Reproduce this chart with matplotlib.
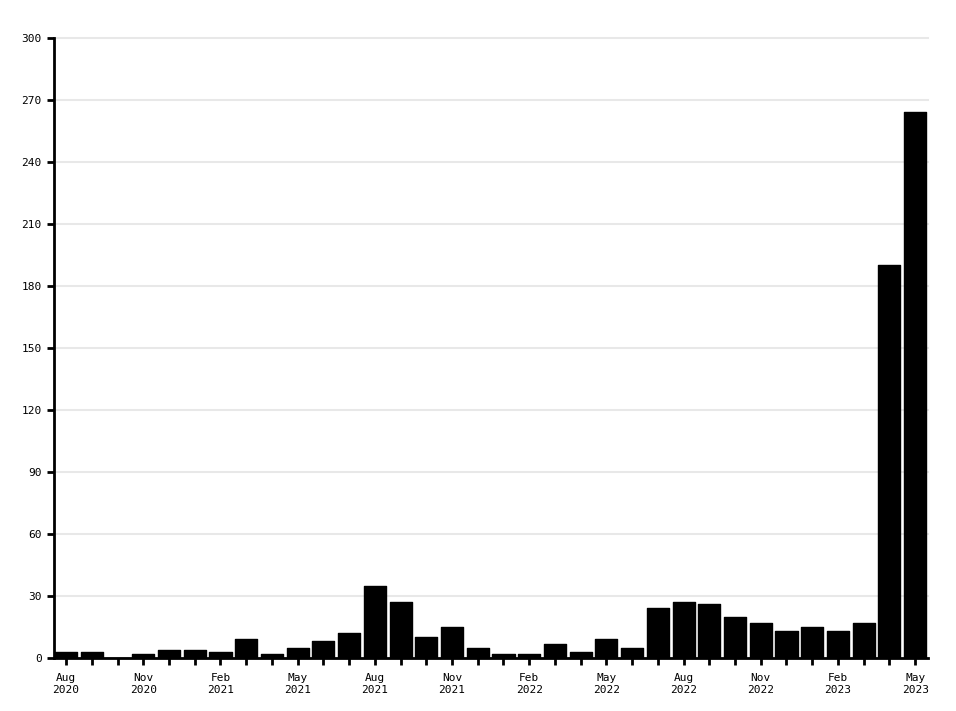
import matplotlib
matplotlib.use("Agg")
import matplotlib.pyplot as plt
import numpy as np

plt.rcParams['font.family'] = ['DejaVu Sans Mono']

months = ["Aug 2020", "Sep 2020", "Oct 2020", "Nov 2020", "Dec 2020",
          "Jan 2021", "Feb 2021", "Mar 2021", "Apr 2021", "May 2021", "Jun 2021", "Jul 2021",
          "Aug 2021", "Sep 2021", "Oct 2021", "Nov 2021", "Dec 2021",
          "Jan 2022", "Feb 2022", "Mar 2022", "Apr 2022", "May 2022", "Jun 2022", "Jul 2022",
          "Aug 2022", "Sep 2022", "Oct 2022", "Nov 2022", "Dec 2022",
          "Jan 2023", "Feb 2023", "Mar 2023", "Apr 2023", "May 2023"]
counts = [3, 3, 0, 2, 4,
          4, 3, 9, 2, 5, 8, 12,
          35, 27, 10, 15, 5,
          2, 2, 7, 3, 9, 5, 24,
          27, 26, 20, 17, 13,
          15, 13, 17, 190, 264]

fig = plt.figure(figsize=(9.56, 7.11), dpi=100)
ax = fig.add_axes([54/956, (711-658)/711, (928-54)/956, (658-38)/711])

x = np.arange(len(months))
ax.bar(x, counts, width=0.86, color="black", edgecolor="black", linewidth=1, joinstyle="round", zorder=3)

ax.set_xlim(-0.47, len(months) - 0.5)
ax.set_ylim(0, 300)
ax.set_yticks(np.arange(0, 301, 30))
ax.yaxis.grid(True, color="#e8e8e8", linewidth=1.5, zorder=0)
for gl in ax.get_ygridlines():
    gl.set_clip_on(False)

major = [i for i in range(len(months)) if i % 3 == 0]
ax.set_xticks(major)
ax.set_xticklabels([months[i].replace(" ", "\n") for i in major])
ax.set_xticks(x, minor=True)

for s in ["top", "right"]:
    ax.spines[s].set_visible(False)
ax.spines["left"].set_linewidth(2)
ax.spines["bottom"].set_linewidth(2)
ax.tick_params(axis="both", which="both", length=5, width=2, labelsize=8, pad=4)
ax.tick_params(axis="x", which="major", pad=6)

plt.savefig("out.png", dpi=100)
